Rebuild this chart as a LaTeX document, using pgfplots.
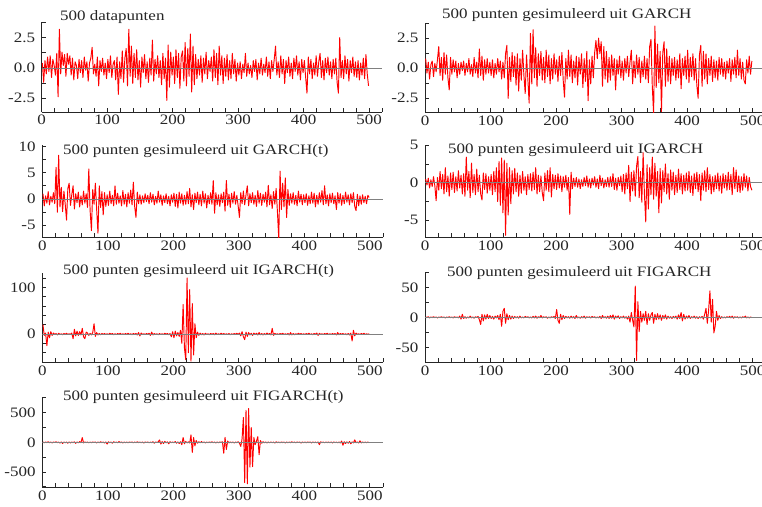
\documentclass[border=0pt]{standalone}
\usepackage{fontspec}
\setmainfont{Liberation Serif}[FakeStretch=1.18]
\usepackage{pgfplots}
\usepackage{pgfplotstable}
\pgfplotsset{compat=1.18}

\pgfplotstableread[row sep=\\]{y\\
0.4\\-1.2\\0.6\\-0.5\\0.9\\-0.3\\1.0\\-0.8\\0.7\\0.2\\
-0.6\\1.2\\-2.4\\3.2\\-0.5\\1.3\\0.2\\1.1\\-0.7\\1.2\\
0.3\\1.0\\-0.6\\0.8\\-1.0\\0.5\\0.2\\-0.9\\0.7\\-0.4\\
0.6\\-0.8\\0.9\\-0.2\\0.5\\-1.1\\0.4\\0.8\\1.7\\-0.5\\
0.3\\-0.7\\0.9\\-1.5\\0.6\\-0.3\\0.8\\-0.6\\0.4\\-0.9\\
0.7\\-0.4\\1.0\\-0.8\\0.3\\0.6\\-1.0\\0.9\\-2.2\\0.5\\
-0.9\\1.4\\-1.2\\0.8\\1.6\\-1.5\\3.2\\-0.7\\1.8\\-1.3\\
1.2\\-0.8\\1.5\\-1.0\\0.6\\-1.6\\0.9\\-0.4\\1.1\\-0.9\\
0.5\\-1.2\\0.8\\-0.6\\2.3\\-1.1\\0.7\\-0.5\\1.0\\-0.8\\
0.6\\-1.4\\1.2\\-0.9\\0.8\\-2.7\\1.9\\-1.6\\1.3\\-0.6\\
0.9\\-1.3\\1.5\\-0.8\\1.2\\-1.7\\0.9\\1.4\\-1.1\\2.1\\
-1.5\\1.6\\-0.7\\2.8\\-2.0\\1.8\\-1.4\\1.1\\-0.9\\0.7\\
-0.6\\1.0\\-1.2\\0.8\\-0.5\\1.3\\-0.9\\0.6\\-0.3\\0.9\\
-1.1\\1.5\\-0.8\\1.2\\-1.4\\1.8\\-0.6\\1.0\\-1.3\\0.8\\
-0.7\\1.1\\-1.0\\0.6\\-0.9\\1.2\\-0.5\\0.7\\-1.1\\0.4\\
-0.6\\0.5\\-0.9\\0.3\\-0.4\\1.2\\-0.7\\0.4\\-0.5\\0.2\\
-0.8\\0.6\\-0.3\\0.7\\-1.0\\0.4\\-0.5\\0.8\\-0.6\\0.3\\
-0.4\\0.9\\-0.7\\0.5\\-0.9\\0.6\\-0.3\\0.7\\1.8\\-0.6\\
0.5\\-0.8\\1.0\\-0.5\\0.7\\-1.3\\0.6\\-0.4\\0.9\\-0.7\\
0.4\\-0.9\\0.8\\-0.3\\1.0\\-0.6\\0.5\\-1.0\\0.7\\-0.4\\
0.6\\-0.8\\-2.1\\0.9\\-0.5\\0.7\\-0.9\\0.4\\-0.6\\1.0\\
-0.7\\0.5\\1.2\\-0.8\\0.6\\-1.0\\0.8\\-0.4\\0.9\\-0.6\\
0.5\\-0.9\\0.7\\-0.5\\0.8\\-1.2\\-2.1\\2.5\\-0.8\\0.6\\
-0.9\\1.0\\-0.5\\0.7\\-1.1\\0.6\\-0.4\\0.9\\-0.7\\0.5\\
-0.8\\0.6\\-1.0\\0.4\\-0.6\\0.8\\-0.9\\1.1\\-0.5\\-1.5\\
}\tA

\pgfplotstableread[row sep=\\]{y\\
0.8\\-0.4\\0.5\\-0.9\\0.3\\0.6\\-0.7\\0.4\\-0.3\\0.7\\
1.8\\-0.6\\0.9\\-1.0\\1.3\\-0.5\\1.1\\-0.8\\-1.8\\0.9\\
-0.5\\0.7\\-0.3\\0.6\\-0.8\\0.4\\-0.5\\0.5\\-0.2\\0.6\\
-0.6\\0.4\\-0.3\\0.8\\-0.5\\0.3\\-0.7\\0.9\\-0.4\\0.5\\
-0.8\\1.6\\-0.6\\1.0\\-1.0\\0.7\\-0.5\\0.8\\-0.4\\0.5\\
-0.6\\0.7\\-0.8\\0.4\\-0.5\\0.8\\-0.3\\0.6\\-0.9\\0.5\\
-0.8\\1.2\\1.9\\-2.5\\0.9\\-1.1\\1.3\\-0.7\\1.0\\-1.4\\
1.2\\-1.9\\0.8\\-1.0\\1.5\\-0.6\\-2.1\\1.1\\-0.9\\-2.9\\
2.9\\-1.3\\3.2\\-0.8\\1.7\\-1.5\\1.2\\-0.6\\1.4\\-1.0\\
0.9\\-1.2\\1.5\\-0.7\\1.1\\-1.3\\0.8\\-0.9\\1.2\\-0.5\\
0.7\\-1.1\\1.0\\-0.6\\1.3\\-1.0\\-2.4\\0.8\\-0.9\\1.5\\
-0.7\\1.1\\-1.2\\0.6\\-0.8\\1.0\\-1.4\\0.9\\-0.5\\1.2\\
-1.6\\0.8\\-1.1\\1.4\\-2.7\\0.7\\-1.3\\1.0\\-0.8\\1.3\\
2.3\\0.8\\2.5\\1.2\\2.2\\-1.5\\1.8\\-0.9\\1.4\\-1.2\\
0.9\\-1.0\\1.1\\-0.6\\0.8\\-1.8\\0.7\\-0.5\\1.0\\-0.8\\
0.6\\-1.0\\0.8\\-0.4\\1.0\\-0.7\\0.5\\1.5\\-1.3\\0.6\\
-0.8\\1.1\\-0.5\\0.9\\-1.2\\0.6\\-0.7\\1.0\\-0.9\\0.8\\
-1.2\\1.8\\2.4\\-1.5\\-3.8\\3.5\\-1.6\\2.0\\-1.2\\1.4\\
-3.6\\1.3\\2.2\\-1.5\\1.6\\-1.1\\1.0\\-1.3\\0.8\\-0.6\\
0.9\\-1.0\\0.7\\-0.8\\1.2\\-1.7\\0.8\\-0.6\\1.0\\-0.9\\
1.5\\-1.2\\0.9\\-0.7\\1.2\\-1.0\\0.8\\-1.4\\-2.5\\1.1\\
1.9\\-1.5\\1.4\\-0.9\\1.2\\-1.3\\0.8\\-0.6\\1.0\\-1.1\\
0.7\\-0.8\\0.6\\-1.0\\0.9\\-0.5\\0.8\\-0.7\\0.5\\-0.9\\
0.6\\-0.4\\0.8\\-1.1\\0.7\\-0.5\\0.9\\-0.8\\1.5\\-0.6\\
0.8\\-0.9\\0.5\\-1.0\\-1.3\\0.7\\-0.4\\1.0\\-0.5\\0.6\\
}\tB

\pgfplotstableread[row sep=\\]{y\\
1.0\\-1.3\\0.6\\-0.8\\1.4\\-1.1\\0.5\\-0.6\\1.2\\-0.9\\
6.0\\-2.5\\8.3\\-1.5\\2.2\\-2.4\\1.5\\-1.0\\-4.0\\2.0\\
3.0\\-1.2\\0.8\\2.5\\-1.9\\1.0\\-0.7\\1.3\\-1.5\\0.6\\
-1.1\\1.5\\-0.8\\1.0\\-1.6\\5.7\\-2.2\\-6.0\\1.8\\-1.0\\
3.0\\-2.0\\-6.5\\2.5\\-1.6\\1.4\\-3.0\\1.2\\-1.4\\0.8\\
-1.2\\1.5\\-0.9\\0.7\\-1.3\\2.5\\-1.0\\1.1\\-0.8\\0.6\\
-1.3\\1.6\\-1.0\\0.9\\-1.5\\1.2\\-0.8\\1.7\\-1.1\\3.2\\
-1.4\\-3.5\\1.3\\-0.9\\0.8\\-1.0\\0.6\\-0.7\\1.0\\-0.5\\
0.7\\-0.9\\1.2\\-0.6\\0.9\\-1.1\\0.5\\-0.8\\1.5\\-0.6\\
0.8\\-1.2\\0.6\\-0.7\\1.0\\-0.9\\0.5\\-1.3\\0.8\\-0.6\\
1.1\\-1.4\\0.9\\-1.7\\1.3\\-0.8\\1.0\\-1.2\\0.7\\-1.0\\
1.4\\-0.9\\2.0\\-1.5\\0.8\\-2.0\\1.1\\-0.7\\1.3\\-1.1\\
0.9\\-1.3\\1.5\\-0.8\\1.0\\-1.7\\0.7\\-0.9\\1.2\\-1.0\\
3.5\\-2.7\\1.2\\-1.1\\0.8\\-1.4\\1.0\\-0.7\\1.3\\-2.3\\
3.5\\-1.2\\0.9\\-1.6\\1.1\\-0.8\\1.4\\-1.0\\0.7\\-1.3\\
-3.5\\1.2\\-0.9\\1.5\\-1.1\\0.8\\2.5\\-1.3\\1.0\\-0.7\\
1.2\\-1.0\\0.7\\-1.4\\1.6\\-0.8\\1.1\\-1.2\\0.9\\-0.6\\
1.3\\-1.5\\2.6\\-1.1\\0.8\\-1.8\\1.4\\-1.0\\2.0\\-2.5\\
-7.5\\5.3\\-2.0\\3.0\\-1.5\\4.0\\-3.5\\1.8\\-1.2\\1.0\\
-0.8\\1.2\\-1.0\\0.7\\-1.3\\1.5\\-0.6\\0.9\\-1.1\\0.8\\
-0.7\\1.0\\-1.2\\0.6\\-0.9\\1.3\\-0.8\\1.1\\-1.5\\0.7\\
-1.0\\1.2\\-0.6\\1.6\\-1.1\\2.5\\-0.9\\0.8\\-1.3\\1.0\\
-0.7\\1.1\\-0.9\\0.6\\-2.0\\1.2\\-0.8\\1.0\\-1.2\\0.7\\
-0.9\\1.3\\-0.6\\0.8\\-1.1\\1.0\\-0.7\\1.2\\-1.4\\-2.2\\
0.9\\-1.3\\0.6\\-1.0\\0.8\\-0.7\\0.5\\-0.9\\0.7\\0.3\\
}\tC

\pgfplotstableread[row sep=\\]{y\\
0.5\\-0.3\\0.6\\-0.7\\0.4\\-0.5\\0.8\\-0.4\\-2.4\\0.7\\
-1.0\\1.5\\-0.8\\1.1\\-1.5\\2.0\\-1.2\\0.9\\-1.8\\1.3\\
-0.9\\1.4\\-1.3\\0.8\\-1.1\\1.6\\-0.7\\1.0\\-1.5\\1.2\\
-1.8\\3.4\\-1.0\\1.5\\-2.0\\2.6\\-1.3\\1.1\\-1.6\\1.8\\
-1.2\\1.0\\-1.5\\-2.3\\1.3\\-0.9\\1.2\\-1.4\\0.8\\-1.0\\
1.1\\-1.6\\1.5\\-1.2\\2.0\\-2.5\\2.8\\-3.0\\3.3\\-4.0\\
3.0\\-7.0\\2.6\\-4.3\\2.0\\-2.8\\1.6\\-1.5\\1.9\\-1.2\\
1.3\\-1.8\\1.0\\-1.4\\1.5\\-1.0\\0.8\\-1.6\\1.1\\-0.9\\
1.2\\-1.1\\1.4\\-0.9\\2.0\\-1.5\\1.0\\-1.2\\0.9\\-1.3\\
-2.4\\1.3\\-1.0\\1.6\\-1.2\\2.0\\-1.9\\1.1\\-0.8\\1.0\\
-0.9\\1.2\\-0.7\\0.9\\-1.2\\0.8\\-0.6\\1.0\\-1.0\\0.7\\
-4.2\\1.4\\-0.8\\0.6\\-0.5\\0.7\\-0.6\\0.5\\-0.8\\0.4\\
-0.5\\0.7\\-0.4\\0.9\\-0.6\\0.5\\-0.7\\0.6\\-0.3\\0.8\\
-0.6\\0.5\\-0.8\\1.0\\-0.4\\0.6\\-0.7\\0.4\\-0.5\\0.7\\
-0.6\\0.8\\-0.5\\1.2\\-0.9\\0.6\\-1.0\\0.7\\-0.4\\0.9\\
-1.2\\1.1\\-1.5\\1.3\\-0.8\\2.3\\-2.5\\1.4\\-1.1\\1.6\\
-1.8\\2.2\\3.5\\-2.0\\1.5\\-2.6\\4.0\\-1.5\\-5.2\\2.4\\
-3.5\\2.0\\-1.6\\3.4\\-2.2\\2.6\\-1.8\\1.5\\-4.0\\1.9\\
-2.7\\1.6\\-1.2\\2.5\\-1.5\\1.2\\-2.2\\1.7\\-1.0\\1.4\\
-1.6\\1.0\\-1.3\\1.8\\-0.9\\1.2\\-1.5\\1.0\\-1.1\\1.3\\
-1.0\\1.5\\-1.3\\0.9\\-1.7\\1.2\\-0.8\\1.4\\-1.2\\1.1\\
-2.4\\1.3\\-1.0\\1.6\\-1.2\\2.0\\-0.9\\1.1\\-1.5\\0.8\\
-1.2\\1.0\\-0.8\\1.3\\-1.1\\0.9\\-1.4\\1.2\\-0.7\\1.0\\
-1.0\\1.4\\-0.9\\1.1\\-1.6\\2.0\\-0.8\\1.7\\-1.2\\0.9\\
-1.3\\0.8\\-1.0\\1.2\\-0.6\\0.9\\-1.1\\0.7\\-0.5\\-1.0\\
}\tD

\pgfplotstableread[row sep=\\]{y\\
20\\-3\\2\\-25\\4\\-8\\5\\-3\\2\\-1\\
1\\-2\\1.5\\-1\\0.5\\-1.5\\1\\-0.5\\1.5\\-1\\
0.5\\-1\\2\\-10\\10\\-4\\6\\-3\\5\\-2\\
12\\-6\\-10\\4\\2\\-3\\1.5\\-2\\3\\22\\
-5\\3\\-2\\1\\-1.5\\1\\-0.5\\1\\-1\\0.5\\
-1\\1.5\\-0.5\\1\\-1.5\\0.5\\-1\\1\\-0.5\\1.5\\
-1\\0.5\\-1\\1\\-0.5\\1.5\\-1\\0.5\\-1.5\\1\\
-0.5\\1\\-2\\3\\-4\\2\\-1\\0.5\\-1\\1\\
-0.5\\1.5\\-3\\4\\-2\\1\\-1\\0.5\\-1.5\\1\\
-1\\0.5\\-1\\1.5\\-0.5\\1\\-1.5\\1\\-6\\5\\
-8\\6\\-4\\3\\-5\\8\\-20\\63\\-30\\-55\\
120\\-40\\95\\-58\\65\\-45\\22\\-8\\4\\-3\\
2\\-1.5\\1\\-2\\1.5\\-1\\0.5\\-1.5\\1\\-0.5\\
1\\-1.5\\2\\-1\\0.5\\-1\\1.5\\-0.5\\1\\-1\\
0.5\\-1\\1\\-1.5\\0.5\\-1\\1\\-0.5\\1.5\\-1\\
2\\-4\\5\\-6\\-12\\4\\-5\\3\\-2\\1.5\\
-3\\2\\-1\\1.5\\-2\\3\\-1.5\\1\\-2\\1\\
-1.5\\2\\-1\\1\\-2\\12\\-3\\1.5\\-1\\0.5\\
-1\\1\\-0.5\\1.5\\-1\\0.5\\-1\\1\\-2\\3\\
-2\\1\\-1.5\\0.5\\-1\\1.5\\-0.5\\1\\-1\\0.5\\
-1\\1\\-0.5\\1.5\\-1\\0.5\\-1.5\\1\\-0.5\\2\\
-3\\1.5\\-1\\0.5\\-1\\1\\-0.5\\1.5\\-1\\0.5\\
-1\\1\\-0.5\\1\\-2\\3\\-1.5\\1\\-0.5\\1\\
-1\\0.5\\-1.5\\1\\-2\\2\\-15\\8\\-4\\2\\
-1\\0.5\\-1\\1\\-0.5\\1.5\\-1\\0.5\\-1\\0.5\\
}\tE

\pgfplotstableread[row sep=\\]{y\\
0.5\\-0.5\\1\\-1\\0.5\\-0.5\\1\\-0.5\\0.5\\-1\\
0.5\\-0.5\\1\\-0.5\\0.5\\-1\\0.5\\-0.5\\1\\-0.5\\
0.5\\-1\\1\\-0.5\\0.5\\-1\\2\\-3\\5\\-2\\
1\\-1.5\\0.5\\-1\\2\\-1\\0.5\\-1.5\\1\\-0.5\\
1.5\\-4\\-12\\5\\-6\\4\\-3\\5\\-2\\3\\
-2\\1.5\\-3\\2\\-1\\3\\-4\\5\\-15\\10\\
15\\-10\\6\\-4\\3\\-3\\2\\-2\\1.5\\-1\\
1\\-1.5\\2\\-1\\0.5\\-1\\1.5\\-0.5\\1\\-1\\
0.5\\-1\\1.5\\-1\\2\\-1.5\\1\\-0.5\\3\\-1\\
1\\-0.5\\1\\-1.5\\0.5\\-1\\1\\-0.5\\1.5\\-2\\
13\\-5\\-10\\5\\-4\\3\\-2\\1.5\\-1\\1\\
-1.5\\2\\-1\\1\\-2\\3\\-1\\0.5\\-1.5\\1\\
-1\\2\\-1.5\\1\\-0.5\\1\\-1\\1.5\\-0.5\\1\\
-1\\0.5\\-1\\1.5\\-2\\3\\-1\\1\\-1.5\\2\\
-2\\3\\-1.5\\4\\-3\\2\\-1\\2.5\\-2\\1\\
-1\\2\\-1.5\\1\\-3\\2\\-8\\8\\-5\\-16\\
52\\-72\\26\\-24\\10\\-8\\6\\-5\\10\\-12\\
6\\-5\\4\\8\\-10\\5\\-4\\6\\-3\\4\\
-5\\3\\-2\\4\\-3\\2\\-1.5\\1\\-2\\1.5\\
-1\\2\\-3\\4\\-2\\8\\-6\\5\\-3\\2\\
-1.5\\3\\-2\\1\\-1\\2\\-1.5\\1\\-2\\1\\
-1\\1.5\\-3\\5\\15\\-10\\12\\44\\-8\\30\\
-26\\-15\\10\\-5\\3\\-2\\1\\-1\\0.5\\-1\\
1\\-0.5\\1.5\\-1\\2\\-1.5\\1\\-0.5\\1\\-1\\
0.5\\-1\\1\\-0.5\\2\\-1\\0.5\\-1\\0.5\\-0.5\\
}\tF

\pgfplotstableread[row sep=\\]{y\\
5\\-8\\4\\-5\\10\\-6\\3\\-10\\6\\-4\\
8\\-5\\3\\-12\\6\\-20\\4\\-8\\5\\-15\\
6\\-10\\4\\-6\\8\\-18\\5\\-9\\12\\-6\\
80\\-10\\6\\-5\\4\\-8\\3\\-6\\5\\-4\\
6\\-10\\4\\-7\\9\\-5\\3\\-12\\6\\-30\\
8\\-6\\4\\-15\\10\\-5\\3\\-8\\12\\-6\\
5\\-10\\4\\-6\\3\\-8\\6\\-4\\5\\-9\\
4\\-6\\8\\-5\\3\\-7\\5\\-12\\6\\-4\\
5\\-8\\3\\-6\\10\\-15\\6\\-4\\8\\40\\
-30\\12\\-20\\15\\-10\\8\\-25\\10\\-6\\5\\
-8\\12\\-15\\6\\-20\\10\\-40\\80\\-25\\15\\
-10\\8\\-12\\124\\-170\\80\\-60\\30\\-15\\10\\
-8\\12\\-6\\5\\-10\\4\\-7\\6\\-5\\8\\
-6\\4\\-10\\5\\-8\\6\\-4\\10\\-185\\83\\
-120\\20\\-10\\6\\-8\\5\\-12\\4\\-6\\10\\
-15\\-70\\60\\420\\-680\\540\\-700\\570\\-420\\250\\
-410\\80\\-40\\20\\95\\-210\\30\\-15\\10\\-8\\
6\\-10\\5\\-8\\4\\-6\\3\\-12\\8\\-5\\
4\\-8\\6\\-5\\3\\-10\\5\\-7\\4\\-6\\
8\\-5\\3\\-9\\6\\-4\\5\\-12\\4\\-6\\
3\\-8\\6\\-5\\4\\-10\\5\\-6\\3\\-9\\
6\\-40\\8\\-5\\4\\-7\\3\\-6\\5\\-8\\
4\\-10\\6\\-5\\3\\-8\\5\\-12\\20\\-50\\
10\\-20\\8\\-15\\12\\-25\\6\\-10\\40\\-8\\
5\\-12\\25\\-10\\6\\-8\\4\\-6\\3\\-5\\
}\tG

\pgfplotsset{
  panel/.style={
    scale only axis, width=340.6pt, anchor=south west,
    xmin=0, xmax=520,
    axis x line*=bottom, axis y line*=left,
    axis line style={-, black!85, line width=0.8pt},
    every outer x axis line/.append style={-},
    every outer y axis line/.append style={-},
    tick align=inside,
    major tick length=4pt, minor tick length=4pt,
    tick style={black!85, line width=0.8pt},
    xtick={0,100,200,300,400,500},
    xticklabels={0,100,200,300,400,500},
    minor xtick={20,40,...,520},
    scaled ticks=false,
    tick label style={inner sep=0pt, text=black!85},
    xticklabel style={yshift=-3pt},
    yticklabel style={xshift=-6.5pt},
  },
  ser/.style={red, line width=0.95pt, line join=round},
  zl/.style={gray, line width=0.5pt},
}

\begin{document}
\fontsize{14.4}{16}\selectfont
\begin{tikzpicture}[x=1pt,y=1pt]
\useasboundingbox (0,0) rectangle (762,506);

% Row 1 left
\begin{axis}[panel, at={(41.7pt,394pt)}, height=90pt, ymin=-3.66, ymax=3.8,
  ytick={-2.5,0,2.5}, yticklabels={-2.5,0.0,2.5}, minor ytick={-1.25,1.25,3.75}]
\addplot[ser] table[x expr=2*\coordindex+1, y=y] {\tA};
\addplot[zl] coordinates {(0,0) (520,0)};
\end{axis}

% Row 1 right
\begin{axis}[panel, at={(425pt,393.7pt)}, height=89.6pt, ymin=-3.66, ymax=3.78,
  ytick={-2.5,0,2.5}, yticklabels={-2.5,0.0,2.5}, minor ytick={-1.25,1.25,3.75}]
\addplot[ser] table[x expr=2*\coordindex+1, y=y] {\tB};
\addplot[zl] coordinates {(0,0) (520,0)};
\end{axis}

% Row 2 left
\begin{axis}[panel, at={(42.3pt,268.7pt)}, height=92.3pt, ymin=-7.27, ymax=10.25,
  ytick={-5,0,5,10}, yticklabels={-5,0,5,10}, minor ytick={-2.5,2.5,7.5}]
\addplot[ser] table[x expr=2*\coordindex+1, y=y] {\tC};
\addplot[zl] coordinates {(0,0) (520,0)};
\end{axis}

% Row 2 right
\begin{axis}[panel, at={(425pt,268.7pt)}, height=92.3pt, ymin=-7.26, ymax=5.02,
  ytick={-5,0,5}, yticklabels={-5,0,5}, minor ytick={-2.5,2.5}]
\addplot[ser] table[x expr=2*\coordindex+1, y=y] {\tD};
\addplot[zl] coordinates {(0,0) (520,0)};
\end{axis}

% Row 3 left
\begin{axis}[panel, at={(42.3pt,143.7pt)}, height=89pt, ymin=-60.6, ymax=130,
  ytick={0,100}, yticklabels={0,100}, minor ytick={-60,-40,-20,20,40,60,80,120}]
\addplot[ser] table[x expr=2*\coordindex+1, y=y] {\tE};
\addplot[zl] coordinates {(0,0) (520,0)};
\end{axis}

% Row 3 right
\begin{axis}[panel, at={(425pt,143.7pt)}, height=90.6pt, ymin=-75, ymax=76,
  ytick={-50,0,50}, yticklabels={-50,0,50}, minor ytick={-25,25,75}]
\addplot[ser] table[x expr=2*\coordindex+1, y=y] {\tF};
\addplot[zl] coordinates {(0,0) (520,0)};
\end{axis}

% Row 4 left
\begin{axis}[panel, at={(42.3pt,18.7pt)}, height=90.6pt, ymin=-759, ymax=769,
  ytick={-500,0,500}, yticklabels={-500,0,500}, minor ytick={-750,-250,250,750}]
\addplot[ser] table[x expr=2*\coordindex+1, y=y] {\tG};
\addplot[zl] coordinates {(0,0) (520,0)};
\end{axis}

\node[anchor=base west, inner sep=0pt, text=black!85] at (60,485.3) {500 datapunten};
\node[anchor=base west, inner sep=0pt, text=black!85] at (442,487.7) {500 punten gesimuleerd uit GARCH};
\node[anchor=base west, inner sep=0pt, text=black!85] at (63,351) {500 punten gesimuleerd uit GARCH(t)};
\node[anchor=base west, inner sep=0pt, text=black!85] at (448,352.7) {500 punten gesimuleerd uit IGARCH};
\node[anchor=base west, inner sep=0pt, text=black!85] at (63,231) {500 punten gesimuleerd uit IGARCH(t)};
\node[anchor=base west, inner sep=0pt, text=black!85] at (447,229.3) {500 punten gesimuleerd uit FIGARCH};
\node[anchor=base west, inner sep=0pt, text=black!85] at (63,106) {500 punten gesimuleerd uit FIGARCH(t)};
\end{tikzpicture}
\end{document}
